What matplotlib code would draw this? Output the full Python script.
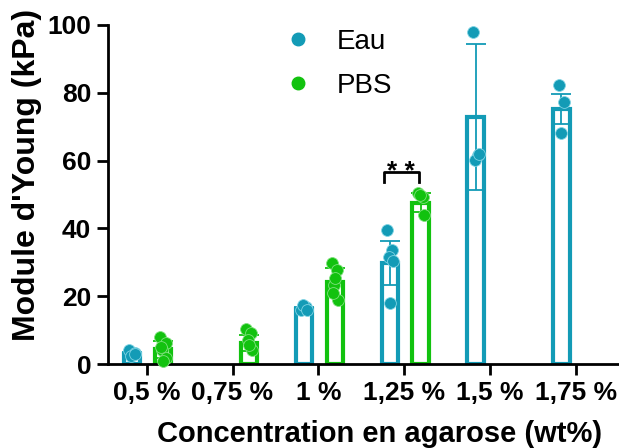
import numpy as np
import matplotlib
matplotlib.use("Agg")
import matplotlib.pyplot as plt
from matplotlib.lines import Line2D

# concentrations on the x axis
labels = ["0,5 %", "0,75 %", "1 %", "1,25 %", "1,5 %", "1,75 %"]

# Eau (water) - mean, SD and individual points per concentration (None = no data)
eau_mean = [2.9, None, 16.3, 29.8, 72.9, 75.2]
eau_sd = [0.7, None, 0.6, 6.5, 21.5, 4.5]
eau_pts = [[4.1, 3.2, 2.4, 3.0],
           [],
           [16.0, 16.8, 17.4, 15.8],
           [39.5, 33.6, 31.6, 30.5, 18.0],
           [98.0, 61.7, 60.2, 62.0],
           [82.3, 77.3, 68.1]]

# PBS - mean, SD and individual points
pbs_mean = [4.4, 6.2, 24.2, 47.5, None, None]
pbs_sd = [2.5, 2.3, 4.2, 2.8, None, None]
pbs_pts = [[8.0, 6.2, 4.1, 1.8, 0.8, 5.0],
           [10.3, 9.1, 7.0, 4.1, 5.5],
           [29.8, 27.7, 23.3, 19.0, 25.5, 21.0],
           [50.4, 49.3, 49.8, 44.0],
           [],
           []]

teal = "#139BB6"
green = "#12C20F"

plt.rcParams['font.family'] = ['Liberation Sans', 'DejaVu Sans']

fig = plt.figure(figsize=(6.19, 4.48), dpi=100)
ax = fig.add_axes([0.1745, 0.1875, 0.8255, 0.7567])

x = np.arange(len(labels))
width = 0.19
jitter = [-0.03, 0.03, -0.01, 0.04, 0.0, -0.02]


def draw_series(means, sds, pts, offset, color, edge):
    for i in range(len(labels)):
        if means[i] is None:
            continue
        xc = x[i] + offset
        ax.bar(xc, means[i], width, facecolor="white", edgecolor=color,
               linewidth=3, zorder=2)
        ax.errorbar(xc, means[i], yerr=sds[i], color=color, elinewidth=1.3,
                    capsize=7, capthick=1.3, zorder=3)
        js = [xc + jitter[k % len(jitter)] for k in range(len(pts[i]))]
        ax.plot(js, pts[i], 'o', color=color, markersize=8.5,
                markeredgecolor=edge, markeredgewidth=0.6, zorder=4,
                clip_on=False)


draw_series(eau_mean, eau_sd, eau_pts, -0.17, teal, "#7fd3e3")
draw_series(pbs_mean, pbs_sd, pbs_pts, 0.19, green, "#7ee07c")

# significance bracket between Eau and PBS at 1,25 %
bx0, bx1 = x[3] - 0.24, x[3] + 0.17
ax.plot([bx0, bx0, bx1, bx1], [53.6, 56.6, 56.6, 53.6], color="black",
        linewidth=2, zorder=5)
ax.text((bx0 + bx1) / 2, 54.6, "* *", ha="center", va="baseline",
        fontsize=19, fontweight="bold")

ax.set_xlim(-0.45, 5.5)
ax.set_ylim(0, 100)
ax.set_yticks([0, 20, 40, 60, 80, 100])
ax.set_xticks(x)
ax.set_xticklabels(labels)

for s in ["top", "right"]:
    ax.spines[s].set_visible(False)
for s in ["left", "bottom"]:
    ax.spines[s].set_linewidth(2)
ax.tick_params(axis="both", length=8, width=2, labelsize=19, pad=4)
for t in ax.get_xticklabels() + ax.get_yticklabels():
    t.set_fontweight("bold")

ax.set_ylabel("Module d'Young (kPa)", fontsize=23, fontweight="bold")
ax.yaxis.set_label_coords(-0.129, 0.557)
ax.set_xlabel("Concentration en agarose (wt%)", fontsize=21, fontweight="bold")
ax.xaxis.set_label_coords(0.532, -0.166)

handles = [Line2D([], [], linestyle="none", marker="o", color=teal, markersize=9),
           Line2D([], [], linestyle="none", marker="o", color=green, markersize=9)]
fig.legend(handles, ["Eau", "PBS"], loc="center left",
           bbox_to_anchor=(0.436, 0.857), frameon=False, fontsize=20,
           borderpad=0, borderaxespad=0, labelspacing=0.65,
           handlelength=2, handletextpad=0.4)

fig.savefig("out.png", dpi=100)
